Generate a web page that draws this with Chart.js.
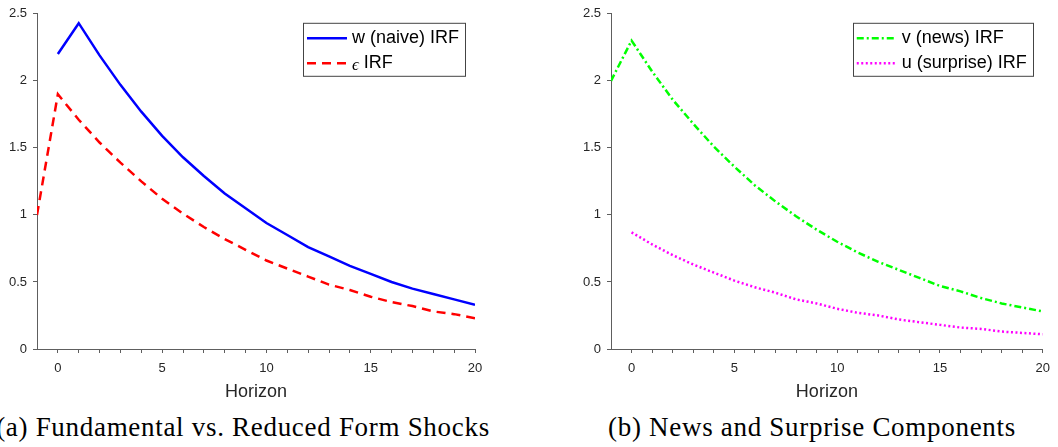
<!DOCTYPE html>
<html>
<head>
<meta charset="utf-8">
<script src="https://cdn.jsdelivr.net/npm/chart.js@4.4.0/dist/chart.umd.min.js"></script>
<style>
  body { margin: 0; background: #fff; width: 1058px; height: 447px; overflow: hidden; position: relative; }
  canvas { position: absolute; top: 0; }
  .cap { position: absolute; top: 414px; font-family: "Liberation Serif", serif; font-size: 27px; line-height: 26px;
         letter-spacing: 0.7px; color: #000; white-space: nowrap; transform: translateX(-50%); }
</style>
</head>
<body>
<canvas id="left" width="529" height="404" style="left:0"></canvas>
<canvas id="right" width="529" height="404" style="left:529px"></canvas>
<div class="cap" style="left:243px">(a) Fundamental vs. Reduced Form Shocks</div>
<div class="cap" style="left:812px">(b) News and Surprise Components</div>
<script>
// horizons and IRF values
const hNaive = [0, 1, 2, 3, 4, 5, 6, 7, 8, 9, 10, 11, 12, 13, 14, 15, 16, 17, 18, 19, 20];
const wNaive = [2.20, 2.43, 2.19, 1.97, 1.77, 1.59, 1.43, 1.29, 1.16, 1.05, 0.94, 0.85, 0.76, 0.69, 0.62, 0.56, 0.50, 0.45, 0.41, 0.37, 0.33];

const hEps = [-1, 0, 1, 2, 3, 4, 5, 6, 7, 8, 9, 10, 11, 12, 13, 14, 15, 16, 17, 18, 19, 20];
const epsIRF = [1.00, 1.90, 1.71, 1.54, 1.39, 1.25, 1.12, 1.01, 0.91, 0.82, 0.74, 0.66, 0.60, 0.54, 0.48, 0.44, 0.39, 0.35, 0.32, 0.28, 0.26, 0.23];

const hNews = [-1, 0, 1, 2, 3, 4, 5, 6, 7, 8, 9, 10, 11, 12, 13, 14, 15, 16, 17, 18, 19, 20];
const vNews = [2.00, 2.30, 2.07, 1.86, 1.68, 1.51, 1.36, 1.22, 1.10, 0.99, 0.89, 0.80, 0.72, 0.65, 0.59, 0.53, 0.47, 0.43, 0.38, 0.34, 0.31, 0.28];

const hSurprise = [0, 1, 2, 3, 4, 5, 6, 7, 8, 9, 10, 11, 12, 13, 14, 15, 16, 17, 18, 19, 20];
const uSurprise = [0.87, 0.78, 0.70, 0.63, 0.57, 0.51, 0.46, 0.42, 0.37, 0.34, 0.30, 0.27, 0.25, 0.22, 0.20, 0.18, 0.16, 0.15, 0.13, 0.12, 0.11];

const xMinorTicks = [0, 1, 2, 3, 4, 5, 6, 7, 8, 9, 10, 11, 12, 13, 14, 15, 16, 17, 18, 19, 20];
const xTicks = [0, 5, 10, 15, 20];
const yTicks = [0, 0.5, 1, 1.5, 2, 2.5];

const axisColor = '#5e5e5e';
const textColor = '#262626';
const sans = '"Liberation Sans", Arial, sans-serif';

function pts(xs, ys) {
    return xs.map((x, i) => ({ x: x, y: ys[i] }));
}

// boxed legend in the top right corner, matlab style
const boxLegend = {
    id: 'boxLegend',
    afterDraw(chart) {
        let ctx = chart.ctx;
        let area = chart.chartArea;
        let sets = chart.data.datasets;
        ctx.save();
        ctx.font = '18px ' + sans;
        let textW = Math.max(...sets.map(d => ctx.measureText(d.label).width));
        let sample = 40;
        let w = 4 + sample + 5 + textW + 6;
        let right = area.right - 10;
        let left = right - w;
        let top = area.top + 9.5;
        let h = 53;
        ctx.fillStyle = '#fff';
        ctx.fillRect(left, top, w, h);
        ctx.strokeStyle = '#444';
        ctx.lineWidth = 1;
        ctx.strokeRect(Math.round(left) + 0.5, top, Math.round(w), h);
        sets.forEach((d, i) => {
            let y = top + 15 + i * 25;
            ctx.strokeStyle = d.borderColor;
            ctx.lineWidth = d.borderWidth;
            ctx.setLineDash(d.borderDash || []);
            ctx.beginPath();
            ctx.moveTo(left + 4, y);
            ctx.lineTo(left + 4 + sample, y);
            ctx.stroke();
            ctx.setLineDash([]);
            ctx.fillStyle = '#000';
            ctx.textBaseline = 'middle';
            let tx = left + 4 + sample + 5;
            let label = d.label;
            if (label.startsWith('\u03f5')) {
                ctx.font = 'italic 17px "Liberation Serif", serif';
                ctx.fillText('\u03f5', tx, y + 2);
                tx += ctx.measureText('\u03f5').width;
                label = label.slice(1);
                ctx.font = '18px ' + sans;
            }
            ctx.fillText(label, tx, y);
        });
        ctx.restore();
    }
};

function makeChart(id, datasets, yWidth, padRight) {
    return new Chart(document.getElementById(id), {
        type: 'line',
        data: { datasets: datasets },
        options: {
            responsive: false,
            animation: false,
            layout: { padding: { top: 9, right: padRight, left: 0, bottom: 0 } },
            elements: { point: { radius: 0 }, line: { tension: 0 } },
            plugins: { legend: { display: false }, tooltip: { enabled: false } },
            scales: {
                x: {
                    type: 'linear', min: -1, max: 20,
                    // a tick at every horizon, labels only every 5
                    afterBuildTicks: s => { s.ticks = xMinorTicks.map(v => ({ value: v })); },
                    afterFit: s => { s.height = 55; },
                    grid: { drawOnChartArea: false, drawTicks: true, tickLength: 4, color: axisColor },
                    border: { color: axisColor, width: 1 },
                    ticks: {
                        color: textColor, font: { family: sans, size: 13 }, maxRotation: 0, padding: 8,
                        autoSkip: false,
                        callback: v => xTicks.includes(v) ? String(v) : ''
                    },
                    title: { display: true, text: 'Horizon', color: textColor, font: { family: sans, size: 18 }, padding: { top: 0, bottom: 1 } }
                },
                y: {
                    min: 0, max: 2.5,
                    afterBuildTicks: s => { s.ticks = yTicks.map(v => ({ value: v })); },
                    afterFit: s => { s.width = yWidth; },
                    grid: { drawOnChartArea: false, drawTicks: true, tickLength: 4, color: axisColor },
                    border: { color: axisColor, width: 1 },
                    ticks: { color: textColor, font: { family: sans, size: 13 }, padding: 6, callback: v => String(v) }
                }
            }
        },
        plugins: [boxLegend]
    });
}

makeChart('left', [
    { label: 'w (naive) IRF', data: pts(hNaive, wNaive), borderColor: '#0000ff', borderWidth: 2.5, fill: false },
    { label: '\u03f5 IRF', data: pts(hEps, epsIRF), borderColor: '#ff0000', borderWidth: 2.5, borderDash: [9, 6], fill: false }
], 37, 54);

makeChart('right', [
    { label: 'v (news) IRF', data: pts(hNews, vNews), borderColor: '#00ff00', borderWidth: 2.5, borderDash: [7, 3, 2, 3], fill: false },
    { label: 'u (surprise) IRF', data: pts(hSurprise, uSurprise), borderColor: '#ff00ff', borderWidth: 2.5, borderDash: [2, 2.5], fill: false }
], 82, 9);
</script>
</body>
</html>
